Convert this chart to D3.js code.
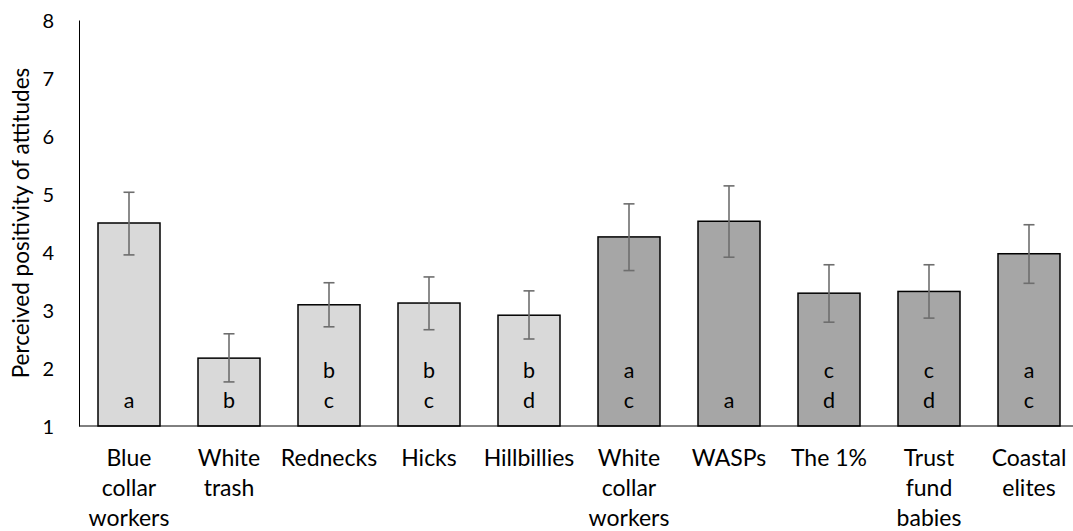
<!DOCTYPE html>
<html>
<head>
<meta charset="utf-8">
<script src="https://cdn.jsdelivr.net/npm/d3@7"></script>
<style>
  body { margin: 0; background: #fff; }
  text { font-family: Lato, "Open Sans", sans-serif; fill: #000; }
</style>
</head>
<body>
<script>
const svgWidth = 1073;
const svgHeight = 531;

// data
const groups = ["Blue collar workers", "White trash", "Rednecks", "Hicks", "Hillbillies",
                "White collar workers", "WASPs", "The 1%", "Trust fund babies", "Coastal elites"];
const labelLines = [["Blue", "collar", "workers"], ["White", "trash"], ["Rednecks"], ["Hicks"], ["Hillbillies"],
                    ["White", "collar", "workers"], ["WASPs"], ["The 1%"], ["Trust", "fund", "babies"], ["Coastal", "elites"]];
const means = [4.50, 2.17, 3.09, 3.12, 2.91, 4.26, 4.53, 3.29, 3.32, 3.97];
const errHigh = [5.03, 2.59, 3.47, 3.57, 3.33, 4.83, 5.14, 3.78, 3.78, 4.47];
const errLow = [3.95, 1.76, 2.71, 2.66, 2.50, 3.68, 3.91, 2.79, 2.86, 3.46];
const letters = [["a"], ["b"], ["b", "c"], ["b", "c"], ["b", "d"], ["a", "c"], ["a"], ["c", "d"], ["c", "d"], ["a", "c"]];
const classType = ["low", "low", "low", "low", "low", "high", "high", "high", "high", "high"];
const yTicks = [1, 2, 3, 4, 5, 6, 7, 8];

const offsetx = 79;
const plotTop = 20;
const plotBottom = 426;

const svg = d3.select("body").append("svg")
            .attr("width", svgWidth)
            .attr("height", svgHeight);

const xScale = d3.scaleBand().domain(groups).range([offsetx, offsetx + 1000]).paddingInner(0.38).paddingOuter(0.19);
const yScale = d3.scaleLinear().domain([1, 8]).range([plotBottom, plotTop]);
const fill = d3.scaleOrdinal().domain(["low", "high"]).range(["#d9d9d9", "#a6a6a6"]);

//y axis, no ticks
const yAxis = svg.append("g")
   .attr("transform", "translate(" + offsetx + ",0)")
   .call(d3.axisLeft(yScale).tickValues(yTicks).tickFormat(d3.format("d")).tickSize(0).tickPadding(25));
yAxis.select(".domain").attr("stroke", "#000").attr("stroke-width", 1);
yAxis.selectAll("text").style("font-size", "20px").style("font-family", "Lato, sans-serif").attr("dy", "0.35em");

svg.append("text")
   .attr("transform", "translate(29," + ((plotTop + plotBottom) / 2) + ") rotate(-90)")
   .attr("text-anchor", "middle")
   .style("font-size", "22.5px")
   .text("Perceived positivity of attitudes");

//bars
svg.selectAll("rect.bar").data(groups).enter().append("rect")
   .attr("class", "bar")
   .attr("x", d => xScale(d))
   .attr("y", (d, i) => yScale(means[i]))
   .attr("width", xScale.bandwidth())
   .attr("height", (d, i) => yScale(1) - yScale(means[i]))
   .attr("fill", (d, i) => fill(classType[i]))
   .attr("stroke", "#000")
   .attr("stroke-width", 1.5);

//baseline over the bars
svg.append("line")
   .attr("x1", offsetx).attr("x2", svgWidth)
   .attr("y1", yScale(1)).attr("y2", yScale(1))
   .attr("stroke", "#000").attr("stroke-width", 1);

//error bars
const err = svg.append("g").attr("stroke", "#6e6e6e").attr("stroke-width", 1.6);
groups.forEach((g, i) => {
  let cx = xScale(g) + xScale.bandwidth() / 2;
  err.append("line").attr("x1", cx).attr("x2", cx).attr("y1", yScale(errLow[i])).attr("y2", yScale(errHigh[i]));
  err.append("line").attr("x1", cx - 5.5).attr("x2", cx + 5.5).attr("y1", yScale(errLow[i])).attr("y2", yScale(errLow[i]));
  err.append("line").attr("x1", cx - 5.5).attr("x2", cx + 5.5).attr("y1", yScale(errHigh[i])).attr("y2", yScale(errHigh[i]));
});

//significance letters inside bars
groups.forEach((g, i) => {
  let cx = xScale(g) + xScale.bandwidth() / 2;
  let n = letters[i].length;
  letters[i].forEach((l, j) => {
    svg.append("text")
       .attr("x", cx)
       .attr("y", yScale(1) - 18 - (n - 1 - j) * 30)
       .attr("text-anchor", "middle")
       .style("font-size", "21.5px")
       .text(l);
  });
});

//category labels
groups.forEach((g, i) => {
  let cx = xScale(g) + xScale.bandwidth() / 2;
  labelLines[i].forEach((l, j) => {
    svg.append("text")
       .attr("x", cx)
       .attr("y", 466 + j * 30)
       .attr("text-anchor", "middle")
       .style("font-size", "23px")
       .text(l);
  });
});
</script>
</body>
</html>
